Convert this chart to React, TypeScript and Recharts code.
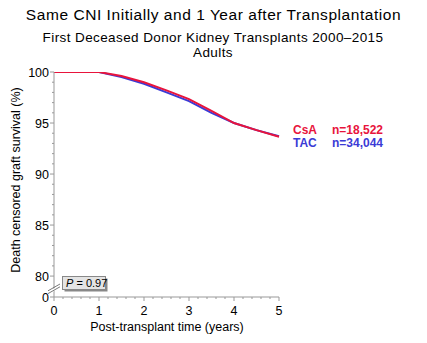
import React from 'react';
import { LineChart, Line, XAxis, YAxis } from 'recharts';

const years = [0, 1, 1.5, 2, 2.5, 3, 3.5, 4, 4.5, 5];
const csa = [100, 100, 99.6, 99.0, 98.2, 97.35, 96.2, 95.0, 94.3, 93.65];
const tac = [100, 100, 99.5, 98.85, 98.0, 97.15, 96.0, 95.0, 94.3, 93.7];
const xTicks = [0, 0.2, 0.4, 0.6, 0.8, 1, 1.2, 1.4, 1.6, 1.8, 2, 2.2, 2.4, 2.6, 2.8, 3, 3.2, 3.4, 3.6, 3.8, 4, 4.2, 4.4, 4.6, 4.8, 5];
const ZERO_POS = 77.95;
const yTicks = [ZERO_POS, 80, 81, 82, 83, 84, 85, 86, 87, 88, 89, 90, 91, 92, 93, 94, 95, 96, 97, 98, 99, 100];

const data = years.map((t, i) => ({ t, csa: csa[i], tac: tac[i] }));

const FONT = '"Liberation Sans", Arial, Helvetica, sans-serif';
const AXIS = '#999999';
const RED = '#e8143c';
const BLUE = '#3b3bd6';

const XTick = (props: any) => {
  const { x, y, payload } = props;
  const v = payload.value;
  const major = Math.abs(v - Math.round(v)) < 1e-6;
  return (
    <g>
      <line x1={x} x2={x} y1={y} y2={y + (major ? 4 : 2)} stroke={AXIS} strokeWidth={1} />
      {major && (
        <text x={x} y={y + 18} textAnchor="middle" fontSize={12.5} fontFamily={FONT} fill="#000">
          {Math.round(v)}
        </text>
      )}
    </g>
  );
};

const YTick = (props: any) => {
  const { x, y, payload } = props;
  const v = payload.value;
  const isZero = Math.abs(v - ZERO_POS) < 1e-6;
  const major = isZero || Math.abs(v % 5) < 1e-6;
  return (
    <g>
      <line x1={x} x2={x - (major ? 4 : 2)} y1={y} y2={y} stroke={AXIS} strokeWidth={1} />
      {major && (
        <text x={x - 5} y={y + 4.5} textAnchor="end" fontSize={12.5} fontFamily={FONT} fill="#000">
          {isZero ? '0' : v}
        </text>
      )}
    </g>
  );
};

export default function App() {
  return (
    <div style={{ position: 'absolute', left: 0, top: 0, width: 427, height: 343, background: '#fff' }}>
      <LineChart
        width={427}
        height={343}
        data={data}
        margin={{ top: 72, right: 148, left: 24, bottom: 15 }}
      >
        <XAxis
          dataKey="t"
          type="number"
          domain={[0, 5]}
          ticks={xTicks}
          interval={0}
          tickSize={0}
          tickMargin={0}
          tick={<XTick />}
          stroke={AXIS}
          height={31}
        />
        <YAxis
          type="number"
          domain={[ZERO_POS, 100]}
          ticks={yTicks}
          interval={0}
          tickSize={0}
          tickMargin={0}
          tick={<YTick />}
          stroke={AXIS}
          width={30}
          allowDataOverflow
        />
        <Line type="linear" dataKey="tac" stroke={BLUE} strokeWidth={2} dot={false} isAnimationActive={false} />
        <Line type="linear" dataKey="csa" stroke={RED} strokeWidth={2} dot={false} isAnimationActive={false} />
      </LineChart>
      <svg
        width={427}
        height={343}
        style={{ position: 'absolute', left: 0, top: 0, pointerEvents: 'none' }}
        fontFamily={FONT}
      >
        <text x={213.5} y={20} textAnchor="middle" fontSize={15.5} letterSpacing={0.55} fill="#000">
          Same CNI Initially and 1 Year after Transplantation
        </text>
        <text x={213} y={42} textAnchor="middle" fontSize={13.5} letterSpacing={0.4} fill="#000">
          First Deceased Donor Kidney Transplants 2000–2015
        </text>
        <text x={213} y={57} textAnchor="middle" fontSize={13.5} letterSpacing={0.4} fill="#000">
          Adults
        </text>
        <text
          x={0}
          y={0}
          transform="translate(20,180) rotate(-90)"
          textAnchor="middle"
          fontSize={12.5}
          fill="#000"
        >
          Death censored graft survival (%)
        </text>
        <text x={167} y={331} textAnchor="middle" fontSize={12.5} fill="#000">
          Post-transplant time (years)
        </text>
        <text x={293} y={134} fontSize={12} fontWeight="bold" fill={RED}>CsA</text>
        <text x={332} y={134} fontSize={12} fontWeight="bold" fill={RED}>n=18,522</text>
        <text x={293} y={147} fontSize={12} fontWeight="bold" fill={BLUE}>TAC</text>
        <text x={332} y={147} fontSize={12} fontWeight="bold" fill={BLUE}>n=34,044</text>
        <polygon points="48,292 60,285 60,287.5 48,294.5" fill="#fff" />
        <line x1={48} y1={290.8} x2={60} y2={284} stroke="#555" strokeWidth={0.8} />
        <line x1={48} y1={293.6} x2={60} y2={286.8} stroke="#555" strokeWidth={0.8} />
        <rect x={64.5} y={278.5} width={43} height={13} fill="#888" />
        <rect x={62.5} y={276.5} width={43} height={13} fill="#e4e4e4" stroke="#888" strokeWidth={1} />
        <text x={66} y={287} fontSize={11} fill="#000">
          <tspan fontStyle="italic">P</tspan> = 0.97
        </text>
      </svg>
    </div>
  );
}
